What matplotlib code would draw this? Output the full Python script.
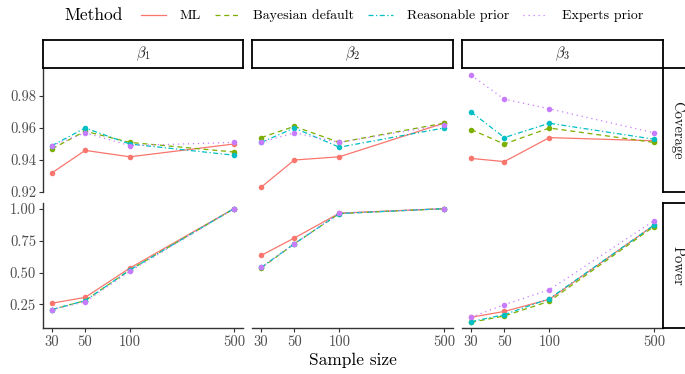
import matplotlib
matplotlib.use("Agg")
import matplotlib.pyplot as plt
from matplotlib.lines import Line2D
import numpy as np

plt.rcParams['font.family'] = ['cmr10', 'DejaVu Serif']
plt.rcParams['mathtext.fontset'] = 'cm'
plt.rcParams['axes.formatter.use_mathtext'] = True

sample_sizes = [30, 50, 100, 500]
methods = ["ML", "Bayesian default", "Reasonable prior", "Experts prior"]
colors = ["#F8766D", "#7CAE00", "#00BFC4", "#C77CFF"]
linestyles = ["-", (0, (4, 3)), (0, (4, 2, 1, 2)), (0, (1, 3))]
params = [r"$\beta_1$", r"$\beta_2$", r"$\beta_3$"]
measures = ["Coverage", "Power"]

# Coverage values [param][method][sample size]
coverage_b1 = {
    "ML": [0.932, 0.946, 0.942, 0.950],
    "Bayesian default": [0.947, 0.958, 0.951, 0.945],
    "Reasonable prior": [0.949, 0.960, 0.950, 0.943],
    "Experts prior": [0.949, 0.957, 0.949, 0.951],
}
coverage_b2 = {
    "ML": [0.923, 0.940, 0.942, 0.963],
    "Bayesian default": [0.954, 0.961, 0.951, 0.963],
    "Reasonable prior": [0.951, 0.960, 0.948, 0.960],
    "Experts prior": [0.951, 0.957, 0.951, 0.962],
}
coverage_b3 = {
    "ML": [0.941, 0.939, 0.954, 0.952],
    "Bayesian default": [0.959, 0.950, 0.960, 0.951],
    "Reasonable prior": [0.970, 0.954, 0.963, 0.953],
    "Experts prior": [0.993, 0.978, 0.972, 0.957],
}
power_b1 = {
    "ML": [0.26, 0.305, 0.535, 1.0],
    "Bayesian default": [0.21, 0.28, 0.52, 1.0],
    "Reasonable prior": [0.21, 0.28, 0.52, 1.0],
    "Experts prior": [0.21, 0.27, 0.51, 1.0],
}
power_b2 = {
    "ML": [0.634, 0.77, 0.965, 1.0],
    "Bayesian default": [0.535, 0.725, 0.962, 1.0],
    "Reasonable prior": [0.54, 0.725, 0.962, 1.0],
    "Experts prior": [0.54, 0.725, 0.965, 1.0],
}
power_b3 = {
    "ML": [0.15, 0.195, 0.29, 0.87],
    "Bayesian default": [0.11, 0.16, 0.275, 0.86],
    "Reasonable prior": [0.115, 0.17, 0.295, 0.87],
    "Experts prior": [0.15, 0.248, 0.365, 0.905],
}
data = [[coverage_b1, coverage_b2, coverage_b3],
        [power_b1, power_b2, power_b3]]

cov_ticks = [0.92, 0.94, 0.96, 0.98]
pow_ticks = [0.25, 0.50, 0.75, 1.00]
yticks = [cov_ticks, pow_ticks]
ylims = [(0.9205, 0.9975), (0.0655, 1.0445)]

W, H = 685, 374
fig = plt.figure(figsize=(W / 100, H / 100), dpi=100)

def rect(x0, y0, x1, y1):
    return [x0 / W, (H - y1) / H, (x1 - x0) / W, (y1 - y0) / H]

cols = [(43, 243), (252, 453), (462, 663)]
rows = [(68, 192), (203, 328)]
axis_col = "#333333"
tick_col = "#4D4D4D"

lx = np.log10(sample_sizes)
xr = lx[-1] - lx[0]
xlim = (10 ** (lx[0] - 0.05 * xr), 10 ** (lx[-1] + 0.05 * xr))

for r, (y0, y1) in enumerate(rows):
    for c, (x0, x1) in enumerate(cols):
        ax = fig.add_axes(rect(x0, y0, x1, y1))
        ax.set_xscale("log")
        for m, col, ls in zip(methods, colors, linestyles):
            ax.plot(sample_sizes, data[r][c][m], color=col, linestyle=ls,
                    lw=0.9, marker="o", ms=4, mec="none")
        ax.set_xlim(*xlim)
        ax.set_ylim(*ylims[r])
        for s in ax.spines.values():
            s.set_visible(False)
        ax.minorticks_off()
        ax.set_xticks(sample_sizes)
        ax.set_xticklabels([str(s) for s in sample_sizes])
        ax.set_yticks(yticks[r])
        ax.set_yticklabels(["%.2f" % t for t in yticks[r]])
        ax.tick_params(axis="both", colors=axis_col, labelcolor=tick_col,
                       labelsize=10.5, length=3, width=0.8, pad=2)
        if c == 0:
            ax.spines["left"].set_visible(True)
            ax.spines["left"].set_color(axis_col)
            ax.spines["left"].set_linewidth(1.0)
        else:
            ax.tick_params(axis="y", left=False, labelleft=False)
        if r == 1:
            ax.spines["bottom"].set_visible(True)
            ax.spines["bottom"].set_color(axis_col)
            ax.spines["bottom"].set_linewidth(1.0)
        else:
            ax.tick_params(axis="x", bottom=False, labelbottom=False)

# top strips
for c, (x0, x1) in enumerate(cols):
    sax = fig.add_axes(rect(x0, 40, x1, 68))
    sax.set_xticks([]); sax.set_yticks([])
    for s in sax.spines.values():
        s.set_linewidth(1.3); s.set_color("black")
    sax.text(0.5, 0.5, params[c], ha="center", va="center", fontsize=10.5,
             color="#1A1A1A", transform=sax.transAxes)

# right strips
for r, (y0, y1) in enumerate(rows):
    sax = fig.add_axes(rect(663, y0, 691, y1))
    sax.set_xticks([]); sax.set_yticks([])
    for s in sax.spines.values():
        s.set_linewidth(1.3); s.set_color("black")
    sax.text(0.5, 0.5, measures[r], ha="center", va="center", fontsize=10.5,
             rotation=-90, color="#1A1A1A", transform=sax.transAxes)

fig.text(353 / W, 1 - 360 / H, "Sample size", ha="center", va="center",
         fontsize=12.5)

fig.text(94 / W, 1 - 15 / H, "Method", ha="center", va="center", fontsize=12.5)
handles = [Line2D([0], [0], color=col, linestyle=ls, lw=0.9)
           for col, ls in zip(colors, linestyles)]
fig.legend(handles, methods, loc="center", bbox_to_anchor=(392 / W, 1 - 16 / H),
           ncol=4, frameon=False, fontsize=10, handlelength=1.8,
           columnspacing=1.0, handletextpad=1.0)

fig.savefig("out.png", dpi=100)
